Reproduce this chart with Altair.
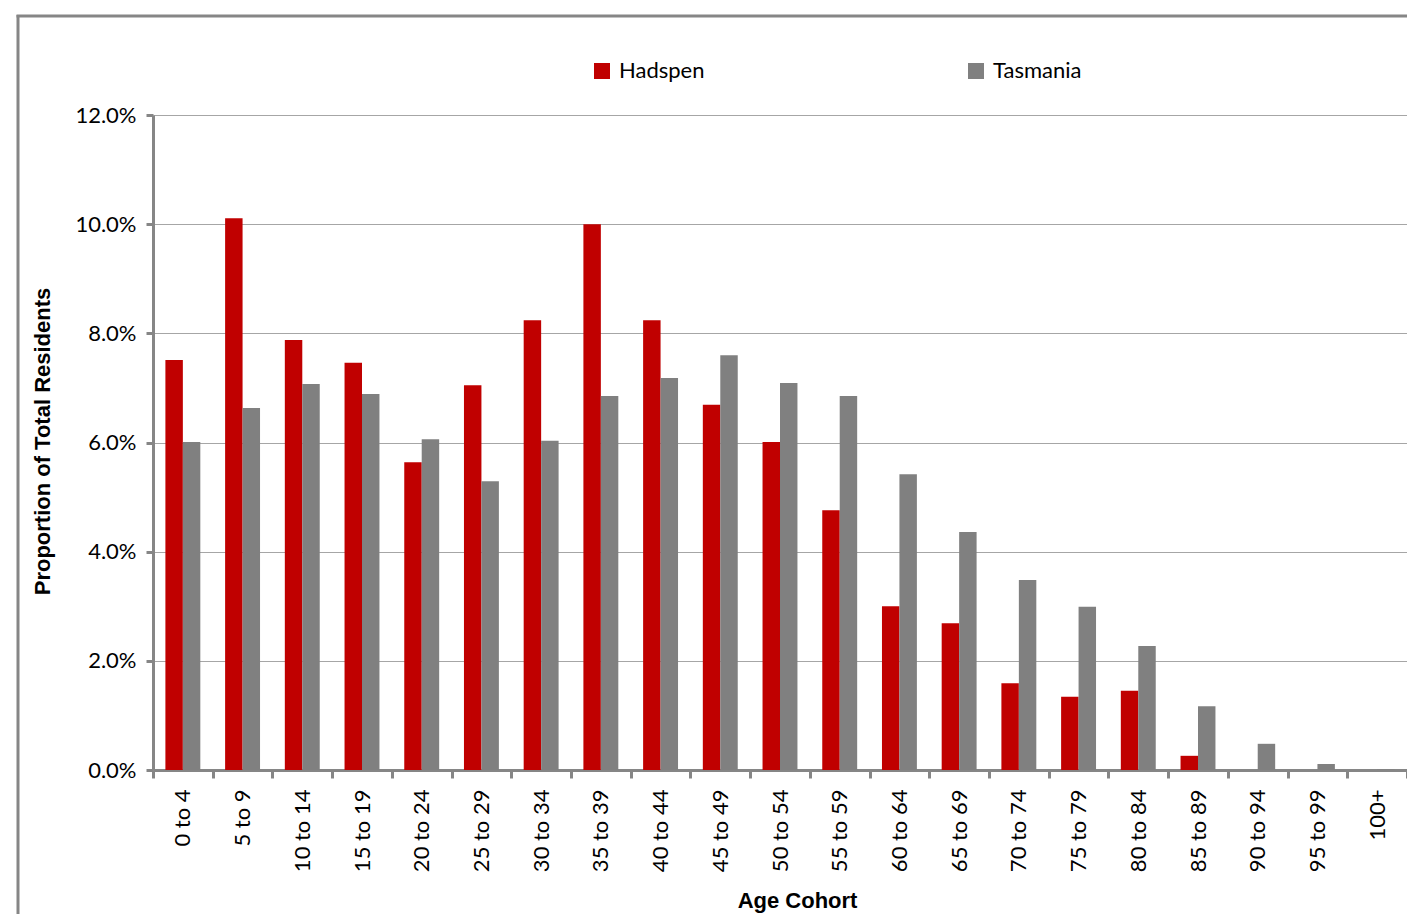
import altair as alt
import pandas as pd

cohorts = ["0 to 4", "5 to 9", "10 to 14", "15 to 19", "20 to 24", "25 to 29",
           "30 to 34", "35 to 39", "40 to 44", "45 to 49", "50 to 54", "55 to 59",
           "60 to 64", "65 to 69", "70 to 74", "75 to 79", "80 to 84", "85 to 89",
           "90 to 94", "95 to 99", "100+"]
hadspen = [7.51, 10.11, 7.88, 7.46, 5.64, 7.05, 8.24, 10.0, 8.24, 6.69, 6.01, 4.76,
           3.00, 2.69, 1.59, 1.34, 1.45, 0.26, 0.0, 0.0, 0.0]
tasmania = [6.01, 6.63, 7.07, 6.89, 6.06, 5.29, 6.03, 6.85, 7.18, 7.60, 7.09, 6.85,
            5.42, 4.36, 3.48, 2.99, 2.27, 1.17, 0.48, 0.11, 0.01]
series = ["Hadspen", "Tasmania"]
colors = ["#C00000", "#808080"]
y_ticks = [0, 2, 4, 6, 8, 10, 12]

rows = []
for c, h, t in zip(cohorts, hadspen, tasmania):
    rows.append({"cohort": c, "series": "Hadspen", "value": h})
    rows.append({"cohort": c, "series": "Tasmania", "value": t})
df = pd.DataFrame(rows)

FRAME = "#868686"
LABEL_FONT = "Lato"
TITLE_FONT = "Liberation Sans"

bars = alt.Chart(df).mark_bar().encode(
    x=alt.X("cohort:N", sort=cohorts,
            scale=alt.Scale(paddingInner=0, paddingOuter=0),
            axis=alt.Axis(title="Age Cohort", labelAngle=-90, tickBand="extent",
                          grid=False, domainColor=FRAME, domainWidth=3,
                          tickColor=FRAME, tickWidth=3, tickSize=8,
                          labelFont=LABEL_FONT, labelFontSize=22, labelColor="black",
                          labelPadding=11,
                          titleFont=TITLE_FONT, titleFontSize=22, titleFontWeight="bold",
                          titleColor="black", titleX=644, titleY=130,
                          titleBaseline="middle", titleAlign="center")),
    xOffset=alt.XOffset("series:N", sort=series,
                        scale=alt.Scale(paddingInner=0, paddingOuter=0.71)),
    y=alt.Y("value:Q", scale=alt.Scale(domain=[0, 12], nice=False),
            axis=alt.Axis(title="Proportion of Total Residents", values=y_ticks,
                          labelExpr="format(datum.value, '.1f') + '%'",
                          gridColor="#a6a6a6", gridWidth=1,
                          domainColor=FRAME, domainWidth=3,
                          tickColor=FRAME, tickWidth=3, tickSize=7,
                          labelFont=LABEL_FONT, labelFontSize=22, labelColor="black",
                          labelPadding=10,
                          titleFont=TITLE_FONT, titleFontSize=22, titleFontWeight="bold",
                          titleColor="black", titleAngle=-90, titleX=-111, titleY=326,
                          titleBaseline="middle", titleAlign="center")),
    color=alt.Color("series:N", sort=series,
                    scale=alt.Scale(domain=series, range=colors),
                    legend=alt.Legend(title=None, orient="none", direction="horizontal",
                                      legendX=438, legendY=-55, padding=0,
                                      symbolType="square", symbolSize=256,
                                      symbolStrokeWidth=0, symbolOpacity=1,
                                      labelFont=LABEL_FONT, labelFontSize=22,
                                      labelColor="black", labelOffset=6,
                                      columnPadding=260)),
)

frame_data = alt.Data(values=[{"k": 1}])
left_border = alt.Chart(frame_data).mark_rule(color=FRAME, strokeWidth=3).encode(
    x=alt.value(-135), y=alt.value(-100), y2=alt.value(820))
top_border = alt.Chart(frame_data).mark_rule(color=FRAME, strokeWidth=3).encode(
    x=alt.value(-136.5), x2=alt.value(1280), y=alt.value(-99))

chart = alt.layer(bars, left_border, top_border).properties(
    width=1254, height=655,
    autosize=alt.AutoSizeParams(type="none"),
    padding={"left": 145, "top": 107, "right": 0, "bottom": 144},
    background="white",
).configure_view(strokeWidth=0)

chart.save("out.html", embed_options={"renderer": "svg", "actions": False})
